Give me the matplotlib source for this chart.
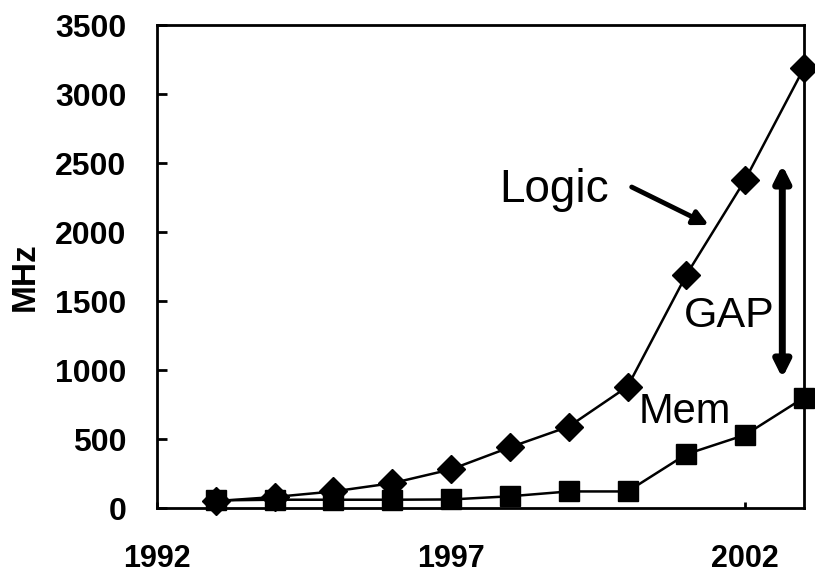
import matplotlib
matplotlib.use("Agg")
import matplotlib.pyplot as plt

plt.rcParams['font.family'] = ['Liberation Sans', 'DejaVu Sans']

# data
years = [1993, 1994, 1995, 1996, 1997, 1998, 1999, 2000, 2001, 2002, 2003]
logic_mhz = [50, 80, 120, 180, 280, 440, 590, 880, 1690, 2380, 3190]
mem_mhz = [55, 60, 60, 60, 62, 85, 120, 120, 390, 530, 800]
x_ticks = [1992, 1997, 2002]
y_ticks = [0, 500, 1000, 1500, 2000, 2500, 3000, 3500]

fig = plt.figure(figsize=(8.15, 5.78), dpi=100)
ax = fig.add_axes([0.1926, 0.1211, 0.794, 0.8356])

ax.plot(years, logic_mhz, color='black', lw=1.8, marker='D', ms=14.5,
        mfc='black', mec='black', clip_on=False, zorder=3)
ax.plot(years, mem_mhz, color='black', lw=1.8, marker='s', ms=14,
        mfc='black', mec='black', clip_on=False, zorder=3)

ax.set_xlim(1992, 2003)
ax.set_ylim(0, 3500)
ax.set_xticks(x_ticks)
ax.set_yticks(y_ticks)
ax.tick_params(axis='y', direction='in', length=7, width=2, pad=22,
               labelsize=23)
ax.tick_params(axis='x', direction='in', length=4.5, width=2, pad=26,
               labelsize=22)
for lab in ax.get_xticklabels() + ax.get_yticklabels():
    lab.set_fontweight('bold')
for sp in ax.spines.values():
    sp.set_linewidth(2)
    sp.set_zorder(4)

ax.set_ylabel('MHz', fontsize=24, fontweight='bold')
ax.yaxis.set_label_coords(-0.18, 0.48)

# annotations
ax.text(1997.82, 2217, 'Logic', fontsize=33, ha='left', va='baseline')
ax.annotate('', xy=(2001.38, 2051), xytext=(2000.07, 2326),
            arrowprops=dict(arrowstyle='-|>', lw=3.5, color='black',
                            mutation_scale=22, shrinkA=0, shrinkB=0))
ax.text(2000.96, 1312, 'GAP', fontsize=31, ha='left', va='baseline')
ax.annotate('', xy=(2002.63, 2486), xytext=(2002.63, 942),
            arrowprops=dict(arrowstyle='<|-|>', lw=5, color='black',
                            mutation_scale=24, shrinkA=0, shrinkB=0))
ax.text(2000.18, 616, 'Mem', fontsize=30, ha='left', va='baseline')

fig.savefig('out.png', dpi=100)
